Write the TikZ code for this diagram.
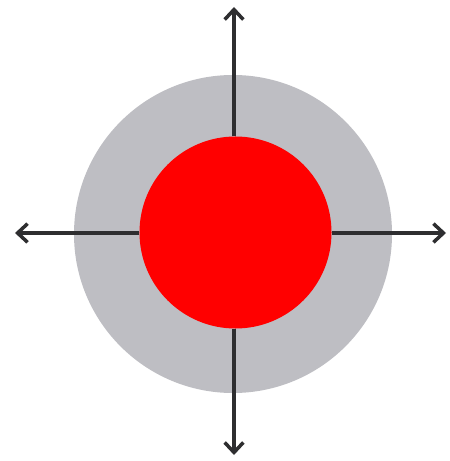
\documentclass[tikz,border=0pt]{standalone}
\usetikzlibrary{arrows.meta}
\definecolor{tgray}{HTML}{BEBEC3}
\definecolor{tred}{HTML}{FF0000}
\definecolor{tink}{HTML}{2E2E30}
\tikzset{
  disc/.style={circle,inner sep=0pt,draw=none},
  outerdisc/.style={disc,fill=tgray,minimum size=9.54cm},
  innerdisc/.style={disc,fill=tred,minimum size=5.76cm},
  axis/.style={-{Straight Barb[length=3mm,width=5.6mm,line width=3pt]},draw=tink,line width=3pt},
}
\begin{document}
\begin{tikzpicture}[x=0.03cm,y=-0.03cm]
  \useasboundingbox (0,0) rectangle (449,461);
  \node[outerdisc] (ring) at (233,234) {};
  \node[innerdisc] (core) at (235.5,232.5) {};
  \coordinate (tipW) at (15,233);
  \coordinate (tipE) at (446,233);
  \coordinate (tipN) at (234,7);
  \coordinate (tipS) at (234,455);
  \draw[axis] (core.west |- tipW) -- (tipW);
  \draw[axis] (core.east |- tipE) -- (tipE);
  \draw[axis] (tipN |- core.north) -- (tipN);
  \draw[axis] (tipS |- core.south) -- (tipS);
\end{tikzpicture}
\end{document}
